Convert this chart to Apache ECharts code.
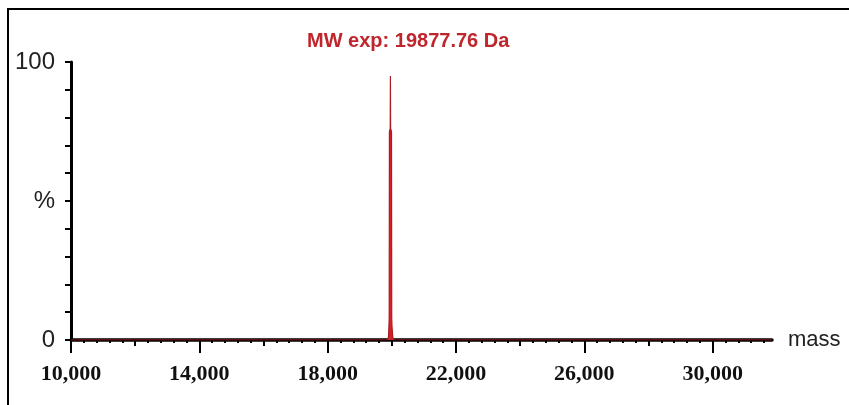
<!DOCTYPE html>
<html>
<head>
<meta charset="utf-8">
<script src="https://cdn.jsdelivr.net/npm/echarts@6/dist/echarts.min.js"></script>
<style>
  html, body { margin: 0; padding: 0; background: #fff; }
  #chart_div { width: 849px; height: 405px; }
</style>
</head>
<body>
<div id="chart_div"></div>
<script>

// deconvoluted spectrum, mass (Da) vs relative intensity (%)
var mass_vals = [10000, 12000, 14000, 16000, 18000, 19500, 19860, 19895, 19910, 19918, 19925, 19950, 19956, 19962, 19990, 19997, 20005, 20030, 20060, 22000, 24000, 26000, 28000, 30000, 31850];
var pct_vals  = [0, 0, 0, 0, 0, 0, 0, 1, 5, 8, 75, 76, 95, 76, 75, 8, 5, 1, 0, 0, 0, 0, 0, 0, 0];

var title_text = 'MW exp: 19877.76 Da';
var x_tick_major = [10000, 12000, 14000, 16000, 18000, 20000, 22000, 24000, 26000, 28000, 30000];
var x_tick_label = [10000, 14000, 18000, 22000, 26000, 30000];
var y_tick_label = [0, 50, 100];
var y_label_text = {0: '0', 50: '%', 100: '100'};

var t_data = [];
for (var i = 0; i < mass_vals.length; i++) {
	t_data.push([mass_vals[i], pct_vals[i]]);
}

var f_fmt_mass = function(v) {
	return v.toString().replace(/\B(?=(\d{3})+(?!\d))/g, ',');
};

var chart = echarts.init(document.getElementById('chart_div'));

chart.setOption({
	backgroundColor: '#ffffff',
	animation: false,
	title: {
		text: title_text,
		left: 302,
		top: 26,
		textStyle: { color: '#bf252c', fontSize: 20, fontWeight: 'bold', fontFamily: 'Liberation Sans' }
	},
	graphic: [{
		type: 'rect',
		shape: { x: 8, y: 9, width: 1000, height: 600 },
		style: { fill: 'none', stroke: '#000', lineWidth: 2 },
		silent: true
	}],
	grid: { left: 71, right: 77, top: 62, bottom: 65 },
	xAxis: [{
		type: 'value',
		min: 10000,
		max: 31850,
		interval: 2000,
		name: 'mass',
		nameLocation: 'end',
		nameGap: 16,
		nameTextStyle: { color: '#222', fontSize: 22, fontFamily: 'Liberation Sans', padding: [0, 0, 6, 0] },
		axisLine: { show: true, lineStyle: { color: '#000', width: 3.5 } },
		axisTick: { show: true, customValues: x_tick_major, length: 6, lineStyle: { color: '#000', width: 2 } },
		minorTick: { show: true, splitNumber: 5, length: 3, lineStyle: { color: '#000', width: 2 } },
		splitLine: { show: false },
		axisLabel: {
			customValues: x_tick_label,
			formatter: f_fmt_mass,
			margin: 23,
			color: '#111',
			fontSize: 22,
			fontWeight: 'bold',
			fontFamily: 'Liberation Serif'
		}
	}, {
		type: 'value',
		min: 10000,
		max: 31850,
		interval: 4000,
		position: 'bottom',
		axisLine: { show: true, lineStyle: { color: '#000', width: 3, opacity: 0 } },
		axisTick: { show: true, customValues: x_tick_label, length: 13, lineStyle: { color: '#000', width: 2 } },
		axisLabel: { show: false },
		splitLine: { show: false }
	}],
	yAxis: {
		type: 'value',
		min: 0,
		max: 100,
		interval: 10,
		axisLine: { show: true, lineStyle: { color: '#000', width: 3 } },
		axisTick: { show: true, length: 6, lineStyle: { color: '#000', width: 2 } },
		splitLine: { show: false },
		axisLabel: {
			customValues: y_tick_label,
			formatter: function(v) { return y_label_text[v]; },
			margin: 16,
			color: '#222',
			fontSize: 24,
			fontFamily: 'Liberation Sans'
		}
	},
	series: [{
		type: 'line',
		data: t_data,
		showSymbol: false,
		z: 5,
		lineStyle: { color: '#a81c24', width: 1.2 },
		areaStyle: { color: '#d42029', opacity: 1 }
	}]
});
</script>
</body>
</html>
